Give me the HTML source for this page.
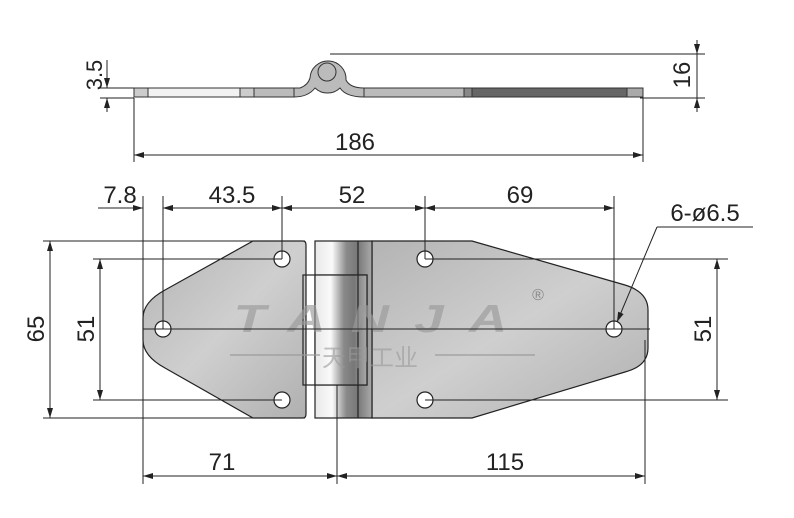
<!DOCTYPE html>
<html><head><meta charset="utf-8"><style>
html,body{margin:0;padding:0;background:#fff;}
svg{display:block;font-family:"Liberation Sans","Noto Sans CJK SC",sans-serif;}
</style></head><body>
<svg width="794" height="518" viewBox="0 0 794 518" xmlns="http://www.w3.org/2000/svg">
<defs>
<marker id="a" viewBox="0 0 10 6" refX="10" refY="3" markerWidth="10" markerHeight="6" orient="auto-start-reverse" markerUnits="userSpaceOnUse"><path d="M0,0 L10,3 L0,6 z" fill="#222"/></marker>
<linearGradient id="g" x1="0" y1="0" x2="1" y2="1"><stop offset="0" stop-color="#b4b4b4"/><stop offset="0.5" stop-color="#cfcfcf"/><stop offset="1" stop-color="#b0b0b0"/></linearGradient>
<linearGradient id="k" x1="0" y1="0" x2="1" y2="0"><stop offset="0" stop-color="#e8e8e8"/><stop offset="0.3" stop-color="#fafafa"/><stop offset="0.55" stop-color="#8a8a8a"/><stop offset="0.75" stop-color="#777"/><stop offset="1" stop-color="#aaa"/></linearGradient>
</defs>
<g stroke="#222" stroke-width="1" fill="none">
<line x1="330" y1="54" x2="705" y2="54"/>
<line x1="640" y1="98" x2="705" y2="98"/>
<line x1="697" y1="40" x2="697" y2="54" marker-end="url(#a)"/>
<line x1="697" y1="112" x2="697" y2="98" marker-end="url(#a)"/>
<line x1="697" y1="54" x2="697" y2="98"/>
<line x1="100" y1="88" x2="134" y2="88"/>
<line x1="100" y1="98" x2="134" y2="98"/>
<line x1="107" y1="60" x2="107" y2="88" marker-end="url(#a)"/>
<line x1="107" y1="112" x2="107" y2="98" marker-end="url(#a)"/>
<line x1="134" y1="98" x2="134" y2="162"/>
<line x1="643" y1="98" x2="643" y2="162"/>
<line x1="134" y1="155" x2="643" y2="155" marker-start="url(#a)" marker-end="url(#a)"/>
</g>
<g stroke="#333" stroke-width="1">
<rect x="134" y="88" width="106" height="9" fill="#f2f2f2"/>
<rect x="134" y="88" width="14" height="9" fill="#ccc"/>
<rect x="240" y="88" width="14" height="9" fill="#ccc"/>
<rect x="254" y="88" width="40" height="9" fill="#bbb"/>
<rect x="364" y="88" width="100" height="9" fill="#bbb"/>
<rect x="464" y="88" width="8" height="9" fill="#888"/>
<rect x="472" y="88" width="155" height="9" fill="#666"/>
<rect x="627" y="88" width="16" height="9" fill="#aaa"/>
<path d="M294,88 L300,88 Q308,85 310,78 A18,18 0 1 1 346,80 Q350,88 364,88 L364,97 Q346,97 340,88 A18,18 0 0 1 315,88 Q308,97 294,97 z" fill="#bbb"/>
<circle cx="327" cy="72" r="9" fill="#bbb"/>
</g>
<text x="355" y="150" font-size="24" text-anchor="middle" fill="#222">186</text>
<text transform="translate(102,75) rotate(-90)" font-size="22" text-anchor="middle" fill="#222">3.5</text>
<text transform="translate(690,75) rotate(-90)" font-size="24" text-anchor="middle" fill="#222">16</text>

<g stroke="#222" stroke-width="1.2">
<path d="M253,241 L303,241 Q306,241 306,245 L306,414 Q306,418 303,418 L253,418 L165,368 Q143,356 143,340 L143,318 Q143,302 165,290 z" fill="url(#g)"/>
<path d="M372,241 L472,241 L625,285 Q648,292 648,310 L648,348 Q648,366 625,372 L472,418 L372,418 z" fill="url(#g)"/>
<rect x="315" y="241" width="57" height="177" fill="url(#k)"/>
<rect x="303" y="275" width="64" height="110" fill="none"/>
<rect x="315" y="275" width="52" height="110" fill="url(#k)"/>
<line x1="358" y1="241" x2="358" y2="418"/>
</g>
<g fill="#fff" stroke="#222" stroke-width="1.2">
<circle cx="282" cy="259" r="8"/><circle cx="282" cy="400" r="8"/>
<circle cx="163" cy="329" r="8"/><circle cx="425" cy="259" r="8"/>
<circle cx="425" cy="400" r="8"/><circle cx="614" cy="329" r="8"/>
</g>
<text x="383" y="332" font-size="46" font-weight="bold" font-style="italic" text-anchor="middle" fill="#999" fill-opacity="0.65" letter-spacing="22" transform="translate(383,332) scale(1.15,0.85) translate(-383,-332)">TANJA</text>
<text x="370" y="366" font-size="24" text-anchor="middle" fill="#999" fill-opacity="0.6">天甲工业</text>
<line x1="230" y1="355" x2="320" y2="355" stroke="#999" stroke-opacity="0.6" stroke-width="2"/>
<line x1="435" y1="355" x2="535" y2="355" stroke="#999" stroke-opacity="0.6" stroke-width="2"/>
<text x="538" y="300" font-size="16" text-anchor="middle" fill="#888">®</text>

<g stroke="#222" stroke-width="1" fill="none">
<line x1="143" y1="329" x2="650" y2="329"/>
<line x1="43" y1="241" x2="305" y2="241"/>
<line x1="43" y1="418" x2="305" y2="418"/>
<line x1="93" y1="259" x2="282" y2="259"/>
<line x1="93" y1="400" x2="282" y2="400"/>
<line x1="425" y1="259" x2="728" y2="259"/>
<line x1="425" y1="400" x2="728" y2="400"/>
<line x1="50" y1="329" x2="50" y2="241" marker-end="url(#a)"/>
<line x1="50" y1="329" x2="50" y2="418" marker-end="url(#a)"/>
<line x1="100" y1="329" x2="100" y2="259" marker-end="url(#a)"/>
<line x1="100" y1="329" x2="100" y2="400" marker-end="url(#a)"/>
<line x1="717" y1="329" x2="717" y2="259" marker-end="url(#a)"/>
<line x1="717" y1="329" x2="717" y2="400" marker-end="url(#a)"/>
<line x1="143" y1="196" x2="143" y2="484"/>
<line x1="163" y1="196" x2="163" y2="329"/>
<line x1="282" y1="196" x2="282" y2="259"/>
<line x1="425" y1="196" x2="425" y2="259"/>
<line x1="614" y1="196" x2="614" y2="329"/>
<line x1="337" y1="385" x2="337" y2="484"/>
<line x1="645" y1="340" x2="645" y2="484"/>
<line x1="98" y1="208" x2="143" y2="208" marker-end="url(#a)"/>
<line x1="183" y1="208" x2="163" y2="208" marker-end="url(#a)"/>
<line x1="163" y1="208" x2="614" y2="208"/>
<line x1="163" y1="208" x2="282" y2="208" marker-start="url(#a)" marker-end="url(#a)"/>
<line x1="282" y1="208" x2="425" y2="208" marker-start="url(#a)" marker-end="url(#a)"/>
<line x1="425" y1="208" x2="614" y2="208" marker-start="url(#a)" marker-end="url(#a)"/>
<line x1="143" y1="476" x2="337" y2="476" marker-start="url(#a)" marker-end="url(#a)"/>
<line x1="337" y1="476" x2="645" y2="476" marker-start="url(#a)" marker-end="url(#a)"/>
<line x1="753" y1="227" x2="657" y2="227"/>
<line x1="657" y1="227" x2="617" y2="322" marker-end="url(#a)"/>
</g>
<g font-size="24" fill="#222" text-anchor="middle">
<text x="120" y="203">7.8</text>
<text x="232" y="203">43.5</text>
<text x="352" y="203">52</text>
<text x="520" y="203">69</text>
<text x="222" y="470">71</text>
<text x="505" y="470">115</text>
<text x="705" y="221">6-ø6.5</text>
<text transform="translate(44,329) rotate(-90)">65</text>
<text transform="translate(94,329) rotate(-90)">51</text>
<text transform="translate(711,329) rotate(-90)">51</text>
</g>
</svg>
</body></html>
